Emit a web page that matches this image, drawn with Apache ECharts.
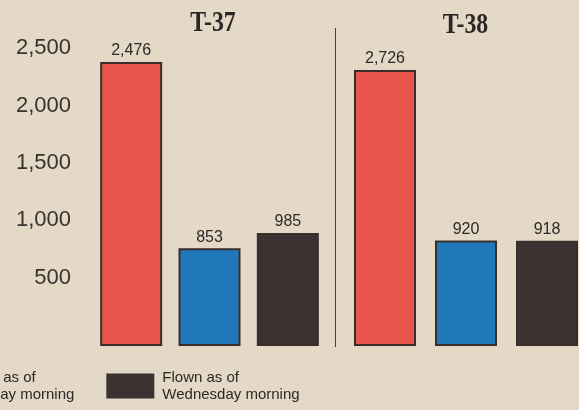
<!DOCTYPE html>
<html>
<head>
<meta charset="utf-8">
<script src="https://cdn.jsdelivr.net/npm/echarts@6/dist/echarts.min.js"></script>
<style>
html,body{margin:0;padding:0;background:#e4d8c7;}
#c{width:579px;height:410px;}
</style>
</head>
<body>
<div id="c"></div>
<script>
// ---- data ----
const panels = ["T-37", "T-38"];
const categories = ["Scheduled", "Tuesday", "Wednesday"];
const seriesNames = ["Scheduled flights", "Flown as of\nTuesday morning", "Flown as of\nWednesday morning"];
const t37Values = [2476, 853, 985];
const t38Values = [2726, 920, 918];
const yTicks = [500, 1000, 1500, 2000, 2500];

const colors = ["#e8554b", "#2078bb", "#3a3331"];
const border = "#3a2e2a";
const sans = '"Liberation Sans", Arial, sans-serif';

const chart = echarts.init(document.getElementById('c'), null, {renderer: 'canvas'});

function fmt(v) { return Number(v).toLocaleString('en-US'); }

function makeSeries(values, gridIdx) {
  return seriesNames.map((name, i) => ({
    name: name,
    type: 'bar',
    xAxisIndex: gridIdx,
    yAxisIndex: gridIdx,
    barWidth: 62,
    barGap: '-100%',
    clip: true,
    data: [[i, values[i]]],
    itemStyle: {color: colors[i], borderColor: border, borderWidth: 2},
    label: {
      show: true, position: 'top', distance: 3,
      formatter: p => fmt(p.value[1]),
      fontFamily: sans, fontSize: 16, color: '#2e2826'
    },
    emphasis: {disabled: true}
  }));
}

const option = {
  backgroundColor: '#e4d8c7',
  animation: false,
  grid: [
    {left: 92, width: 235, top: 2, bottom: 64},
    {left: 344.5, right: 0, top: 71, bottom: 64}
  ],
  xAxis: [
    {type: 'value', gridIndex: 0, min: -0.5, max: 2.5, show: false, splitLine: {show: false}},
    {type: 'value', gridIndex: 1, min: -0.5, max: -0.5 + 234.5 / 81, show: false, splitLine: {show: false}}
  ],
  yAxis: [
    {
      type: 'value', gridIndex: 0, min: 0, max: 3000, interval: 500,
      axisLine: {show: false}, axisTick: {show: false}, splitLine: {show: false},
      axisLabel: {
        margin: 21, fontFamily: sans, fontSize: 22,
        color: '#3a322e', verticalAlign: 'bottom',
        formatter: v => (yTicks.indexOf(v) >= 0 ? fmt(v) : '')
      }
    },
    {
      type: 'value', gridIndex: 1, min: 0, max: 2400, show: false,
      splitLine: {show: false}
    }
  ],
  legend: {
    data: [seriesNames[1], seriesNames[2]],
    orient: 'horizontal',
    left: -97, top: 369, padding: 0,
    itemWidth: 48, itemHeight: 25, itemGap: 32,
    icon: 'rect',
    itemStyle: {borderWidth: 0},
    textStyle: {fontFamily: sans, fontSize: 15, lineHeight: 17, color: '#2e2826', padding: [0, 0, 0, 3]},
    selectedMode: false
  },
  graphic: [
    {type: 'text', x: 213, y: 24, scaleX: 0.82, silent: true,
      style: {text: panels[0], font: 'bold 29px "Liberation Serif", serif', fill: '#2c2624', textAlign: 'center', textVerticalAlign: 'middle'}},
    {type: 'text', x: 465.5, y: 26, scaleX: 0.82, silent: true,
      style: {text: panels[1], font: 'bold 29px "Liberation Serif", serif', fill: '#2c2624', textAlign: 'center', textVerticalAlign: 'middle'}},
    {type: 'line', silent: true,
      shape: {x1: 335.5, y1: 28, x2: 335.5, y2: 347},
      style: {stroke: '#4a403b', lineWidth: 1}}
  ],
  series: makeSeries(t37Values, 0).concat(makeSeries(t38Values, 1))
};

chart.setOption(option);
</script>
</body>
</html>
